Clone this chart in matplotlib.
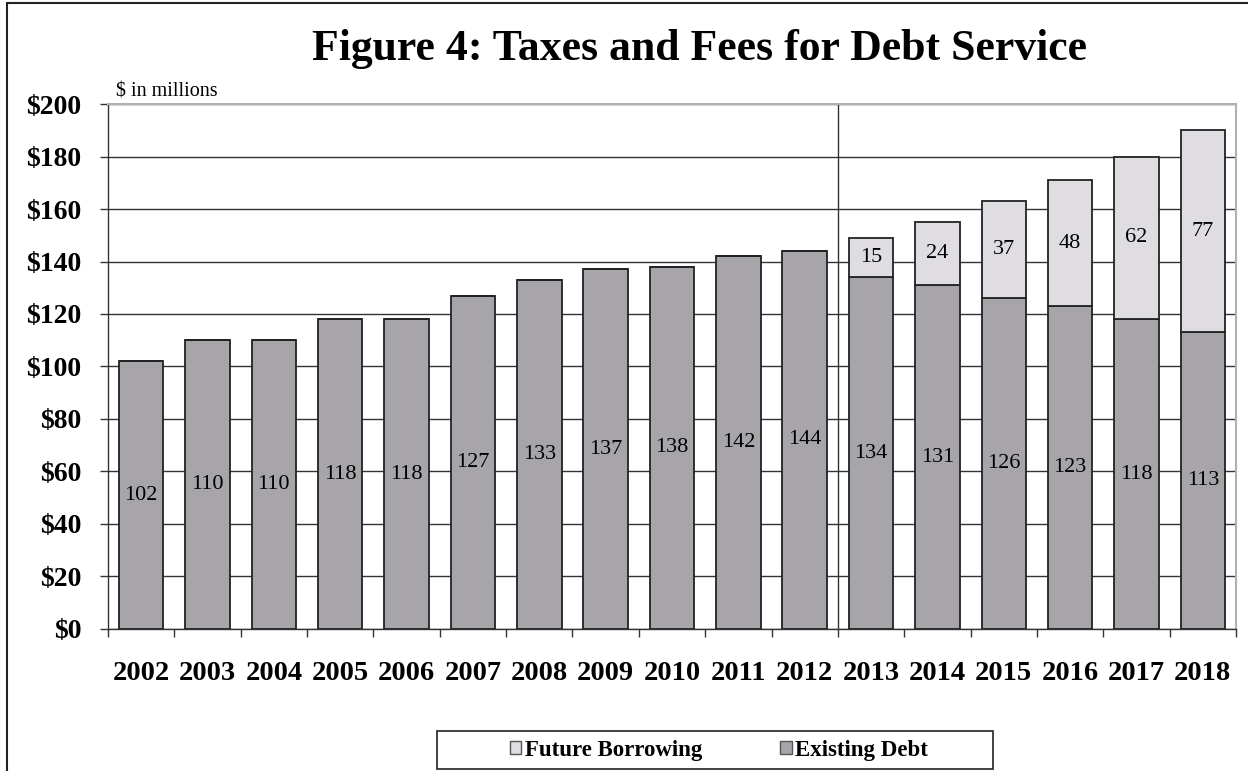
import matplotlib
matplotlib.use('Agg')
import matplotlib.pyplot as plt
from matplotlib.patches import Rectangle
import numpy as np

years = ['2002', '2003', '2004', '2005', '2006', '2007', '2008', '2009', '2010',
         '2011', '2012', '2013', '2014', '2015', '2016', '2017', '2018']
existing_debt = [102, 110, 110, 118, 118, 127, 133, 137, 138, 142, 144,
                 134, 131, 126, 123, 118, 113]
future_borrowing = [0, 0, 0, 0, 0, 0, 0, 0, 0, 0, 0,
                    15, 24, 37, 48, 62, 77]
y_ticks = [0, 20, 40, 60, 80, 100, 120, 140, 160, 180, 200]

SERIF = ['Liberation Serif', 'DejaVu Serif']
EXISTING_COLOR = '#a8a5aa'
FUTURE_COLOR = '#dfdde1'

fig = plt.figure(figsize=(12.48, 7.71), dpi=100)
ax = fig.add_axes([0.0865, 0.1842, 0.9039, 0.6809])

x = np.arange(len(years))
bars_existing = ax.bar(x, existing_debt, width=0.67, color=EXISTING_COLOR,
                       edgecolor='#222222', linewidth=1.3, zorder=3,
                       label='Existing Debt')
bars_future = ax.bar(x, future_borrowing, width=0.67, bottom=existing_debt,
                     color=FUTURE_COLOR, edgecolor='#222222', linewidth=1.3,
                     zorder=3, label='Future Borrowing')

for rect, val in zip(bars_existing, existing_debt):
    ax.text(rect.get_x() + rect.get_width() / 2, val / 2, f'{val}',
            ha='center', va='center', fontsize=16, family=SERIF, zorder=4)
for rect, base, val in zip(bars_future, existing_debt, future_borrowing):
    if val > 0:
        ax.text(rect.get_x() + rect.get_width() / 2, base + val / 2, f'{val}',
                ha='center', va='center', fontsize=16, family=SERIF, zorder=4)

# divider between actuals and projections
ax.axvline(10.5, color='#333333', linewidth=1.0, zorder=2)

ax.set_xlim(-0.5, len(years) - 0.5)
ax.set_ylim(0, 200)
ax.set_yticks(y_ticks)
ax.set_yticklabels([f'${v}' for v in y_ticks], fontsize=20,
                   fontweight='bold', family=SERIF)
ax.yaxis.grid(True, color='#333333', linewidth=1.0, zorder=1)

ax.set_xticks(np.arange(len(years) + 1) - 0.5)
ax.set_xticklabels([])
ax.set_xticks(x, minor=True)
ax.set_xticklabels(years, minor=True, fontsize=20.5, fontweight='bold',
                   family=SERIF)
ax.tick_params(axis='x', which='major', direction='out', length=6,
               width=1.0, color='#333333')
ax.tick_params(axis='x', which='minor', length=0, pad=23)
ax.tick_params(axis='y', direction='out', length=6, width=1.0,
               color='#333333', pad=13)

for side in ['left', 'bottom']:
    ax.spines[side].set_color('#333333')
    ax.spines[side].set_linewidth(1.0)
for side in ['top', 'right']:
    ax.spines[side].set_color('#b0b0b0')
    ax.spines[side].set_linewidth(1.5)

fig.text(0.5605, 0.936, 'Figure 4: Taxes and Fees for Debt Service',
         ha='center', va='center', fontsize=31.5, fontweight='bold',
         family=SERIF)
fig.text(0.093, 0.881, '$ in millions', ha='left', va='center',
         fontsize=14.5, family=SERIF)

# legend drawn without its own frame; a wider box goes around it below
leg = fig.legend(handles=[bars_future, bars_existing],
                 labels=['Future Borrowing', 'Existing Debt'],
                 loc='center', bbox_to_anchor=(0.576, 0.027), ncol=2,
                 frameon=False, handlelength=0.5, handleheight=0.5,
                 handletextpad=0.15, columnspacing=3.4,
                 borderpad=0.0, borderaxespad=0.0,
                 prop={'family': SERIF, 'weight': 'bold', 'size': 16.5})
for h in leg.legend_handles:
    h.set_edgecolor('#555555')
    h.set_linewidth(1.0)

fig.patches.append(Rectangle((437 / 1248, 2 / 771), 556 / 1248, 38 / 771,
                             transform=fig.transFigure, fill=False,
                             edgecolor='#222222', linewidth=1.2))

# outer frame around the whole chart
fig.patches.append(Rectangle((7 / 1248, -0.05), 1.2, 1.05 - 3 / 771,
                             transform=fig.transFigure, fill=False,
                             edgecolor='#222222', linewidth=1.5))

fig.savefig('out.png', dpi=100)
